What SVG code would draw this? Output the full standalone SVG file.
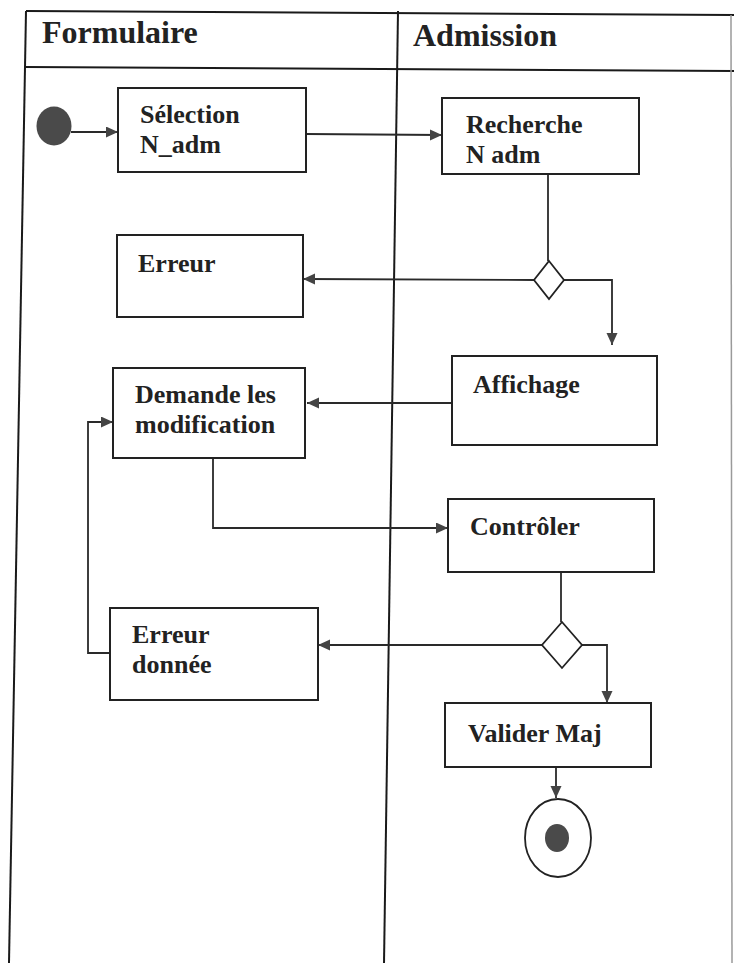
<svg xmlns="http://www.w3.org/2000/svg" width="734" height="963" viewBox="0 0 734 963">
  <style>
    .frame { stroke: #1a1a1a; stroke-width: 2; fill: none; }
    .frame-faint { stroke: #9a9a9a; stroke-width: 1.5; fill: none; }
    .box { fill: #ffffff; stroke: #222222; stroke-width: 2; }
    .decision { fill: #ffffff; stroke: #222222; stroke-width: 1.8; }
    .wire { fill: none; stroke: #2a2a2a; stroke-width: 1.8; }
    .head { font-family: "Liberation Serif", "Times New Roman", serif; font-weight: bold; font-size: 32px; fill: #222222; }
    .label { font-family: "Liberation Serif", "Times New Roman", serif; font-weight: bold; font-size: 26px; fill: #222222; }
  </style>
  <defs>
    <marker id="arrow" markerUnits="userSpaceOnUse" markerWidth="13" markerHeight="12" refX="12" refY="5.5" orient="auto">
      <path d="M0,0 L12,5.5 L0,11 Z" fill="#444444"/>
    </marker>
  </defs>

  <rect width="734" height="963" fill="#ffffff"/>

  <!-- swimlane frame -->
  <g id="lanes">
    <line class="frame" x1="26" y1="11" x2="734" y2="15"/>
    <line class="frame" x1="26" y1="67" x2="734" y2="71"/>
    <line class="frame" x1="26" y1="11" x2="9" y2="963"/>
    <line class="frame" x1="398" y1="11" x2="384" y2="963"/>
    <line class="frame-faint" x1="731" y1="15" x2="732" y2="963"/>
    <text class="head" x="42" y="43">Formulaire</text>
    <text class="head" x="413" y="46">Admission</text>
  </g>

  <!-- connectors -->
  <g id="connectors">
    <path class="wire" d="M71,132 H118" marker-end="url(#arrow)"/>
    <path class="wire" d="M306,134 L442,135" marker-end="url(#arrow)"/>
    <path class="wire" d="M548,174 V261"/>
    <path class="wire" d="M534,280 L303,279" marker-end="url(#arrow)"/>
    <path class="wire" d="M564,280 H612 V345" marker-end="url(#arrow)"/>
    <path class="wire" d="M452,403 H307" marker-end="url(#arrow)"/>
    <path class="wire" d="M213,458 V528 H448" marker-end="url(#arrow)"/>
    <path class="wire" d="M561,572 V622"/>
    <path class="wire" d="M542,645 H318" marker-end="url(#arrow)"/>
    <path class="wire" d="M582,645 H607 V703" marker-end="url(#arrow)"/>
    <path class="wire" d="M110,653 H88 V422 H113" marker-end="url(#arrow)"/>
    <path class="wire" d="M556,767 V798" marker-end="url(#arrow)"/>
  </g>

  <g id="start">
    <ellipse cx="54" cy="126" rx="17.5" ry="19.5" fill="#4a4a4a"/>
  </g>

  <g id="selection">
    <rect class="box" x="118" y="88" width="188" height="84"/>
    <text class="label" x="140" y="123">Sélection</text>
    <text class="label" x="140" y="153">N_adm</text>
  </g>

  <g id="recherche">
    <rect class="box" x="442" y="98" width="197" height="76"/>
    <text class="label" x="466" y="133">Recherche</text>
    <text class="label" x="466" y="163">N adm</text>
  </g>

  <g id="decision1">
    <polygon class="decision" points="549,261 564,280 549,299 534,280"/>
  </g>

  <g id="erreur">
    <rect class="box" x="117" y="235" width="186" height="82"/>
    <text class="label" x="138" y="272">Erreur</text>
  </g>

  <g id="affichage">
    <rect class="box" x="452" y="356" width="205" height="89"/>
    <text class="label" x="473" y="393">Affichage</text>
  </g>

  <g id="demande">
    <rect class="box" x="113" y="368" width="192" height="90"/>
    <text class="label" x="135" y="403">Demande les</text>
    <text class="label" x="135" y="433">modification</text>
  </g>

  <g id="controler">
    <rect class="box" x="448" y="499" width="206" height="73"/>
    <text class="label" x="470" y="535">Contrôler</text>
  </g>

  <g id="decision2">
    <polygon class="decision" points="562,622 582,645 562,668 542,645"/>
  </g>

  <g id="erreur-donnee">
    <rect class="box" x="110" y="608" width="208" height="92"/>
    <text class="label" x="132" y="643">Erreur</text>
    <text class="label" x="132" y="673">donnée</text>
  </g>

  <g id="valider">
    <rect class="box" x="445" y="703" width="206" height="64"/>
    <text class="label" x="468" y="742">Valider Maj</text>
  </g>

  <g id="end">
    <ellipse cx="558" cy="838" rx="33" ry="39" fill="#ffffff" stroke="#222222" stroke-width="1.8"/>
    <ellipse cx="557" cy="838" rx="12" ry="14" fill="#4a4a4a"/>
  </g>
</svg>
